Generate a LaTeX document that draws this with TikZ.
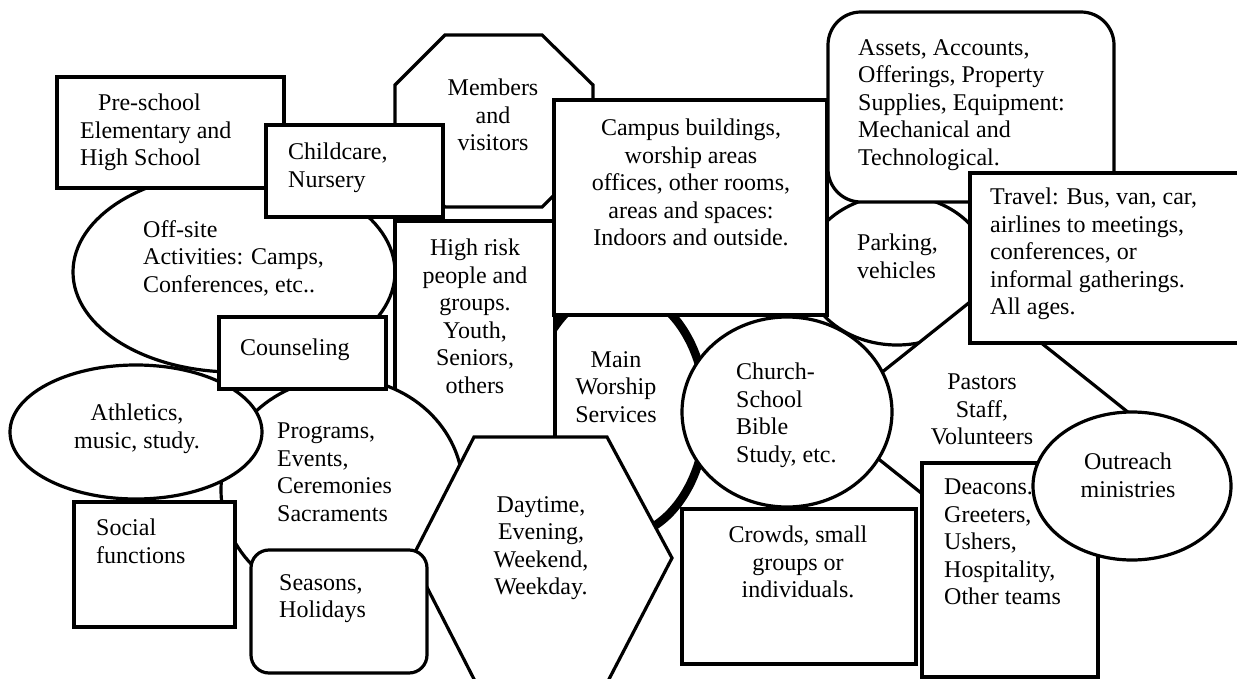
\documentclass[tikz,border=0pt]{standalone}
\usepackage{fontspec}
\setmainfont{Liberation Serif}
\begin{document}
\begin{tikzpicture}[x=1pt,y=-1pt,
  shp/.style={draw=black, fill=white, line width=3.2pt},
  txt/.style={inner sep=0pt, font=\fontsize{24}{27.5}\selectfont,
    execute at begin node=\strut, execute at end node=\strut},
  txtl/.style={txt, align=left, anchor=north west},
  txtc/.style={txt, align=center, anchor=north}]
\useasboundingbox (0,0) rectangle (1237,679);
\fill[white] (0,0) rectangle (1237,679);
\clip (0,0) rectangle (1237,679);

% Main worship services: heavy outline, lowest layer
\draw[shp, line width=8.5pt] (618,413) ellipse [x radius=88pt, y radius=124pt];
\node[txtc] (mainworship) at (616,351) {Main\\Worship\\Services};

% Parking
\draw[shp] (897,270) ellipse [x radius=92pt, y radius=75pt];
\node[txtl] (parking) at (857,234) {Parking,\\vehicles};

% Pastors, staff and volunteers (diamond)
\draw[shp] (826,417) -- (980,294) -- (1134,417) -- (980,540) -- cycle;
\node[txtc] (pastors) at (982,374) {Pastors\\Staff,\\Volunteers};

% Assets
\draw[shp, rounded corners=33pt] (828,12) rectangle (1114,202);
\node[txtl] (assets) at (858,39) {Assets, Accounts,\\Offerings, Property\\Supplies, Equipment:\\Mechanical and\\Technological.};

% Members and visitors (octagon)
\draw[shp] (445,35) -- (542,35) -- (593,85) -- (593,157) -- (542,207) -- (445,207) -- (395,157) -- (395,85) -- cycle;
\node[txtc] (members) at (493,79) {Members\\and\\visitors};

% Off-site activities
\draw[shp] (234,272) ellipse [x radius=161pt, y radius=100pt];
\node[txtl] (offsite) at (143,220) {Off-site\\Activities: Camps,\\Conferences, etc..};

% Schools
\draw[shp] (57,77) rectangle (284,188);
\node[txtl] (preschool) at (80,94) {\hspace*{18pt}Pre-school\\Elementary and\\High School};

% High risk groups
\draw[shp] (395,221) rectangle (555,480);
\node[txtc] (highrisk) at (475,239) {High risk\\people and\\groups.\\Youth,\\Seniors,\\others};

% Campus
\draw[shp] (554,100) rectangle (827,315);
\node[txtc] (campus) at (691,119) {Campus buildings,\\worship areas\\offices, other rooms,\\areas and spaces:\\Indoors and outside.};

% Childcare
\draw[shp] (266,125) rectangle (443,217);
\node[txtl] (childcare) at (288,143) {Childcare,\\Nursery};

% Programs and events
\draw[shp] (342,490) ellipse [x radius=121pt, y radius=112pt];
\node[txtl] (programs) at (277,423) {Programs,\\Events,\\Ceremonies\\Sacraments};

% Athletics
\draw[shp] (136,432) ellipse [x radius=126pt, y radius=67pt];
\node[txtc] (athletics) at (137,404) {Athletics,\\music, study.};

% Counseling
\draw[shp] (219,317) rectangle (386,389);
\node[txtl] (counseling) at (240,336) {Counseling};

% Social functions
\draw[shp] (74,502) rectangle (235,627);
\node[txtl] (social) at (96,519) {Social\\functions};

% Times (hexagon)
\draw[shp] (474,437) -- (607,437) -- (672,558) -- (607,683) -- (476,683) -- (412,558) -- cycle;
\node[txtc] (daytime) at (541,496) {Daytime,\\Evening,\\Weekend,\\Weekday.};

% Seasons
\draw[shp, rounded corners=18pt] (251,550) rectangle (427,673);
\node[txtl] (seasons) at (279,574) {Seasons,\\Holidays};

% Church school
\draw[shp] (787,412) ellipse [x radius=105pt, y radius=95pt];
\node[txtl] (church) at (736,363) {Church-\\School\\Bible\\Study, etc.};

% Crowds
\draw[shp] (682,509) rectangle (916,664);
\node[txtc] (crowds) at (798,526) {Crowds, small\\groups or\\individuals.};

% Travel
\draw[shp] (970,173) rectangle (1245,343);
\node[txtl] (travel) at (990,188) {Travel: Bus, van, car,\\airlines to meetings,\\conferences, or\\informal gatherings.\\All ages.};

% Deacons and teams
\draw[shp] (922,463) rectangle (1098,677);
\node[txtl] (deacons) at (944,479) {Deacons.\\Greeters,\\Ushers,\\Hospitality,\\Other teams};

% Outreach
\draw[shp] (1132,486) ellipse [x radius=99pt, y radius=74pt];
\node[txtc] (outreach) at (1128,453) {Outreach\\ministries};
\end{tikzpicture}
\end{document}
